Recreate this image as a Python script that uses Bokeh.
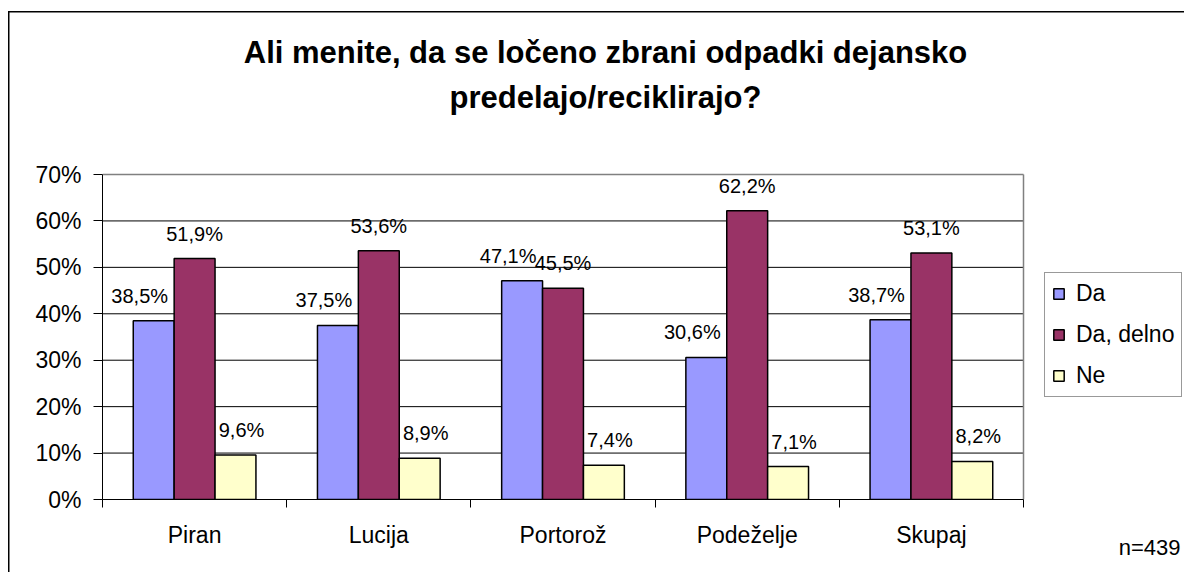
from bokeh.plotting import figure
from bokeh.models import (Range1d, FixedTicker, PrintfTickFormatter, Label,
                          Legend, LegendItem, ColumnDataSource, Title)
from bokeh.core.properties import value
from bokeh.embed import file_html
from bokeh.resources import INLINE

# ---- data ----
categories = ["Piran", "Lucija", "Portorož", "Podeželje", "Skupaj"]
series_names = ["Da", "Da, delno", "Ne"]
da = [38.5, 37.5, 47.1, 30.6, 38.7]
da_delno = [51.9, 53.6, 45.5, 62.2, 53.1]
ne = [9.6, 8.9, 7.4, 7.1, 8.2]
y_ticks = [0, 10, 20, 30, 40, 50, 60, 70]
title_lines = ["Ali menite, da se ločeno zbrani odpadki dejansko",
               "predelajo/reciklirajo?"]
note = "n=439"

# ---- styles / layout ----
colors = ["#9999FF", "#993366", "#FFFFCC"]
label_dx = [-14, 0, 6]
FONT = "Liberation Sans"
W, H = 1184, 572
ML, MB = 102, 73               # left axis area, bottom axis area
PLOT_W_PX, PLOT_H_PX = 921, 325  # size of the bar area in pixels
BAR_W = 0.222
n_cat = len(categories)
y_max = y_ticks[-1]

frame_w = W - ML
frame_h = H - MB
p = figure(width=W, height=H, output_backend="svg", toolbar_location=None,
           x_range=Range1d(0, n_cat * frame_w / PLOT_W_PX),
           y_range=Range1d(0, y_max * frame_h / PLOT_H_PX),
           min_border_left=ML, min_border_right=0,
           min_border_top=0, min_border_bottom=MB)
p.border_fill_color = None
p.background_fill_color = None
p.outline_line_color = None
p.styles = {
    "background-image": "linear-gradient(#000, #000), linear-gradient(#000, #000)",
    "background-position": "8px 11px, 8px 11px",
    "background-size": "1.5px 100%, 100% 1.5px",
    "background-repeat": "no-repeat",
}

# plot-area background and grid lines
p.quad(left=0, right=n_cat, bottom=0, top=y_max, fill_color="white",
       line_color=None)
inner = y_ticks[1:-1]
p.segment(x0=[0] * len(inner), x1=[n_cat] * len(inner), y0=inner, y1=inner,
          line_color="#000000", line_width=1)

renderers = []
all_vals = [da, da_delno, ne]
for j, vals in enumerate(all_vals):
    xs = [i + 0.5 + (j - 1) * BAR_W for i in range(n_cat)]
    src = ColumnDataSource(dict(
        x=xs, top=vals,
        txt=[f"{v:.1f}".replace(".", ",") + "%" for v in vals]))
    r = p.vbar(x="x", top="top", width=BAR_W, bottom=0, source=src,
               fill_color=colors[j], line_color="#000000", line_width=1.5)
    renderers.append(r)
    p.text(x="x", y="top", text="txt", source=src, text_align="center",
           text_baseline="alphabetic", y_offset=-25, x_offset=label_dx[j],
           text_font_size=value("20px"), text_font=value(FONT),
           text_color="#000000")

# grey plot-area border (top and right)
p.segment(x0=[0, n_cat], x1=[n_cat, n_cat], y0=[y_max, 0], y1=[y_max, y_max],
          line_color="#808080", line_width=1.5)

# y axis
p.yaxis.ticker = FixedTicker(ticks=y_ticks)
p.yaxis.bounds = (0, y_max)
p.yaxis.formatter = PrintfTickFormatter(format="%d%%")
p.yaxis.major_tick_out = 9
p.yaxis.major_tick_in = 0
p.yaxis.minor_tick_out = 0
p.yaxis.minor_tick_in = 0
p.yaxis.major_label_standoff = 12
p.yaxis.major_label_text_font = FONT
p.yaxis.major_label_text_font_size = "23px"
p.yaxis.major_label_text_color = "#000000"
p.yaxis.axis_line_color = "#000000"
p.yaxis.major_tick_line_color = "#000000"

# x axis: labels at centres, tick marks between categories
centres = [i + 0.5 for i in range(n_cat)]
bounds = list(range(n_cat + 1))
p.xaxis.ticker = FixedTicker(ticks=centres, minor_ticks=bounds)
p.xaxis.bounds = (0, n_cat)
p.xaxis.major_label_overrides = {c: name for c, name in zip(centres, categories)}
p.xaxis.major_tick_out = 0
p.xaxis.major_tick_in = 0
p.xaxis.minor_tick_out = 8
p.xaxis.minor_tick_in = 0
p.xaxis.minor_tick_line_color = "#000000"
p.xaxis.major_label_standoff = 14
p.xaxis.major_label_text_font = FONT
p.xaxis.major_label_text_font_size = "23px"
p.xaxis.major_label_text_color = "#000000"
p.xaxis.axis_line_color = "#000000"

p.xgrid.visible = False
p.ygrid.visible = False

# legend (inside the extended frame, right of the bars)
legend = Legend(items=[LegendItem(label=n, renderers=[r])
                       for n, r in zip(series_names, renderers)],
                location=(942, 102), orientation="vertical",
                glyph_width=13, glyph_height=13, label_standoff=11,
                padding=7, spacing=14, margin=0,
                label_text_font=FONT, label_text_font_size="23px",
                label_text_color="#000000",
                border_line_color="#333333", border_line_width=1,
                background_fill_color="white", background_fill_alpha=1)
p.add_layout(legend)

# two-line title, centred
title_cx = 605 - ML
for line, base in zip(title_lines, [52, 97]):
    p.add_layout(Label(x=title_cx, y=frame_h - base, x_units="screen",
                       y_units="screen", text=line, text_align="center",
                       text_baseline="alphabetic", text_font=FONT,
                       text_font_size="31px", text_font_style="bold",
                       text_color="#000000"))

# sample-size note under the chart, right-aligned
p.add_layout(Title(text=note, align="right", offset=4, vertical_align="top",
                   standoff=-32, text_font=FONT, text_font_size="22px",
                   text_font_style="normal", text_color="#000000"), "below")

open("out.html", "w").write(file_html(p, INLINE))
